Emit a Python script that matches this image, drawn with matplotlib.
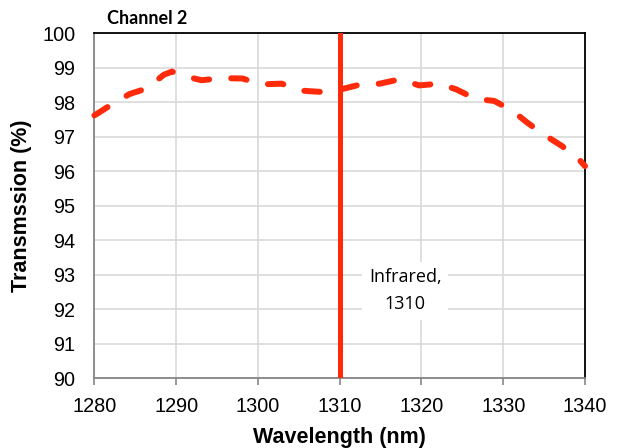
import matplotlib
matplotlib.use("Agg")
import matplotlib.pyplot as plt

wavelength = [1280, 1282.0, 1284.3, 1286.4, 1288.5, 1289.5, 1290.8, 1293.1, 1295.6, 1298.1, 1300.4,
              1302.9, 1305.2, 1307.8, 1309.9, 1312.6, 1314.9, 1317.4, 1319.7, 1322.2, 1324.3,
              1326.6, 1328.9, 1331.1, 1333.0, 1335.2, 1337.2, 1339.4, 1340]
transmission = [97.62, 97.92, 98.24, 98.40, 98.80, 98.89, 98.77, 98.64, 98.70, 98.69, 98.52,
                98.54, 98.34, 98.30, 98.36, 98.52, 98.54, 98.67, 98.49, 98.54, 98.37,
                98.10, 98.04, 97.76, 97.40, 97.03, 96.73, 96.31, 96.15]
marker_wavelength = 1310
marker_label = "Infrared,\n1310"
title = "Channel 2"
xticks = [1280, 1290, 1300, 1310, 1320, 1330, 1340]
yticks = list(range(90, 101))

red = "#FF2A0A"
top_px, bottom_px, left_px, right_px = 33.3, 378.3, 94.4, 585.0
fig = plt.figure(figsize=(6.17, 4.48), dpi=100)
ax = fig.add_axes([left_px/617, 1 - bottom_px/448, (right_px - left_px)/617,
                   (bottom_px - top_px)/448])

ax.plot(wavelength, transmission, color=red, lw=4.3, dashes=(2.6, 3.7),
        dash_capstyle="round", solid_capstyle="round", zorder=3, clip_on=False)
ax.axvline(marker_wavelength, color=red, lw=3.6, zorder=4)

ax.set_xlim(1280, 1340)
ax.set_ylim(90, 100)
ax.set_xticks(xticks)
ax.set_yticks(yticks)
ax.grid(True, color="#D9D9D9", lw=1.2, zorder=0)
ax.set_axisbelow(True)

for s in ["top", "right"]:
    ax.spines[s].set_color("black")
    ax.spines[s].set_linewidth(1.3)
for s in ["left", "bottom"]:
    ax.spines[s].set_color("#868686")
    ax.spines[s].set_linewidth(1.3)

ax.tick_params(axis="both", direction="out", width=1.2, color="#868686",
               labelsize=14.3)
for lab in ax.get_xticklabels() + ax.get_yticklabels():
    lab.set_family("Liberation Sans")
ax.tick_params(axis="x", length=5, pad=8.4)
ax.tick_params(axis="y", length=0, pad=13.7)

ax.set_xlabel("Wavelength (nm)", family="Liberation Sans", fontsize=15.5,
              fontweight="bold")
ax.set_ylabel("Transmssion (%)", family="Liberation Sans", fontsize=15.5,
              fontweight="bold")
ax.xaxis.label.set_va("center")
ax.yaxis.label.set_va("center")
ax.xaxis.set_label_coords(0.5, (bottom_px - 437) / (bottom_px - top_px))
ax.yaxis.set_label_coords((22 - left_px) / (right_px - left_px), 0.5)

ax.text(1318.0, 92.54, marker_label, ha="center", va="center", fontsize=13,
        family="Open Sans", linespacing=1.6,
        bbox=dict(facecolor="white", edgecolor="none", pad=5), zorder=5)

fig.text(107/617, 1 - 18/448, title, ha="left", va="center", fontsize=13,
         fontweight="bold", family="Lato")

fig.savefig("out.png", dpi=100)
